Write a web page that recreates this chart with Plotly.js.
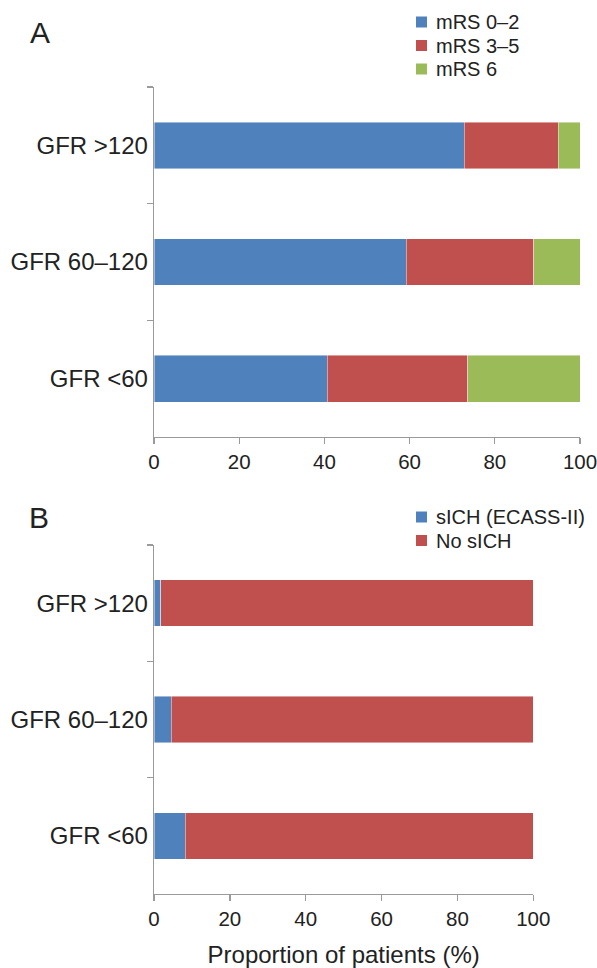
<!DOCTYPE html>
<html>
<head>
<meta charset="utf-8">
<script src="https://cdn.plot.ly/plotly-3.0.1.min.js"></script>
<style>
  html, body { margin: 0; padding: 0; background: #ffffff; }
  #chart { width: 597px; height: 968px; }
</style>
</head>
<body>
<div id="chart"></div>
<script>
// Categories listed top to bottom
var categories = ['GFR >120', 'GFR 60\u2013120', 'GFR <60'];

// Panel A: functional outcome (mRS), % of patients
var seriesA = ['mRS 0\u20132', 'mRS 3\u20135', 'mRS 6'];
var mrs02 = [72.8, 59.2, 40.7];
var mrs35 = [22.1, 30.0, 33.0];
var mrs6  = [5.1, 10.8, 26.3];

// Panel B: symptomatic ICH, % of patients
var seriesB = ['sICH (ECASS-II)', 'No sICH'];
var sich   = [1.8, 4.6, 8.2];
var nosich = [98.2, 95.4, 91.8];

var xTicks = [0, 20, 40, 60, 80, 100];

var cBlue = '#4F81BD', cRed = '#C0504D', cGreen = '#9BBB59';
var fontFam = '"Liberation Sans", Arial, Helvetica, sans-serif';
var txt = '#222222';
var axCol = '#9a9a9a';
var barLine = {color: 'rgba(255,255,255,0.55)', width: 0.8};

function bar(name, vals, color, xa, ya) {
  return {
    type: 'bar', orientation: 'h', name: name,
    x: vals, y: categories,
    xaxis: xa, yaxis: ya, showlegend: false,
    marker: {color: color, line: barLine},
    hoverinfo: 'x+name'
  };
}

var data = [
  bar(seriesA[0], mrs02, cBlue, 'x', 'y'),
  bar(seriesA[1], mrs35, cRed, 'x', 'y'),
  bar(seriesA[2], mrs6, cGreen, 'x', 'y'),
  bar(seriesB[0], sich, cBlue, 'x2', 'y2'),
  bar(seriesB[1], nosich, cRed, 'x2', 'y2')
];

var W = 597, H = 968;
function px(x) { return x / W; }
function py(y) { return 1 - y / H; }

var xCommon = {
  range: [0, 100], tickvals: xTicks, ticktext: xTicks.map(String),
  showgrid: false, zeroline: false, showline: true, linecolor: axCol, linewidth: 1.3,
  ticks: 'outside', ticklen: 6, tickcolor: axCol, tickwidth: 1.3,
  ticklabeloverflow: 'allow',
  tickfont: {family: fontFam, size: 20.5, color: txt}, fixedrange: true
};
var yCommon = {
  type: 'category', autorange: 'reversed',
  showgrid: false, zeroline: false, showline: true, linecolor: axCol, linewidth: 1.3,
  ticks: 'outside', ticklen: 6, tickcolor: axCol, tickwidth: 1.3, tickson: 'boundaries',
  ticklabeloverflow: 'allow',
  tickfont: {family: fontFam, size: 24, color: txt}, fixedrange: true
};

// Custom legends (compact row spacing like the original)
var shapes = [];
var annotations = [
  {text: 'A', x: px(40), y: py(32), xref: 'paper', yref: 'paper', showarrow: false,
   xanchor: 'center', yanchor: 'middle', font: {family: fontFam, size: 30, color: txt}},
  {text: 'B', x: px(39), y: py(517), xref: 'paper', yref: 'paper', showarrow: false,
   xanchor: 'center', yanchor: 'middle', font: {family: fontFam, size: 30, color: txt}}
];
function addLegend(names, colors, x0, yTop, step) {
  names.forEach(function (n, i) {
    var yc = yTop + i * step;
    shapes.push({type: 'rect', xref: 'paper', yref: 'paper',
      x0: px(x0), x1: px(x0 + 11), y0: py(yc + 5.5), y1: py(yc - 5.5),
      fillcolor: colors[i], line: {width: 0}});
    annotations.push({text: n, xref: 'paper', yref: 'paper', x: px(x0 + 18), y: py(yc),
      xanchor: 'left', yanchor: 'middle', showarrow: false,
      font: {family: fontFam, size: 20, color: txt}});
  });
}
addLegend(seriesA, [cBlue, cRed, cGreen], 416, 22, 23.5);
addLegend(seriesB, [cBlue, cRed], 416, 517, 23.5);

var layout = {
  width: W, height: H,
  margin: {l: 0, r: 0, t: 0, b: 0},
  paper_bgcolor: '#ffffff', plot_bgcolor: '#ffffff',
  barmode: 'stack', bargap: 0.6,
  showlegend: false,
  font: {family: fontFam, color: txt},
  xaxis: Object.assign({}, xCommon, {domain: [px(154), px(580)], anchor: 'y'}),
  yaxis: Object.assign({}, yCommon, {domain: [py(437), py(87)], anchor: 'x'}),
  xaxis2: Object.assign({}, xCommon, {
    domain: [px(154), px(533.3)], anchor: 'y2',
    title: {text: 'Proportion of patients (%)', font: {family: fontFam, size: 24, color: txt}, standoff: 18}
  }),
  yaxis2: Object.assign({}, yCommon, {domain: [py(894), py(545)], anchor: 'x2'}),
  shapes: shapes,
  annotations: annotations
};

Plotly.newPlot('chart', data, layout, {displayModeBar: false, staticPlot: true});
</script>
</body>
</html>
